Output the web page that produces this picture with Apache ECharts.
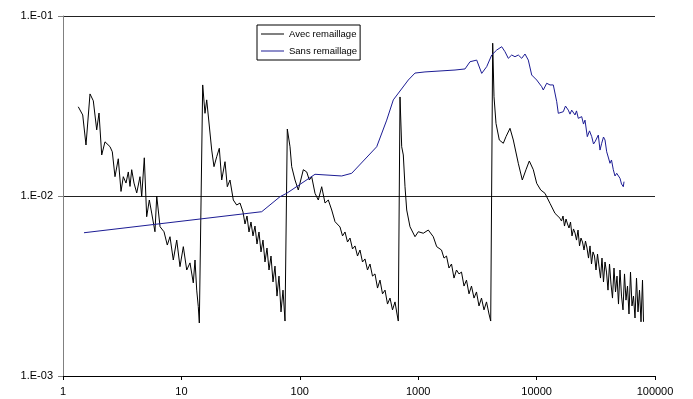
<!DOCTYPE html>
<html>
<head>
<meta charset="utf-8">
<script src="https://cdn.jsdelivr.net/npm/echarts@6/dist/echarts.min.js"></script>
<style>
  html, body {margin: 0; padding: 0; background: #fff;}
  #chart {width: 693px; height: 399px;}
</style>
</head>
<body>
<div id="chart"></div>
<script>
// Avec remaillage (black)
const avecX = [
  1.346, 1.467, 1.564, 1.691, 1.803, 1.926, 2.014, 2.123, 2.263, 2.494,
  2.609, 2.749, 2.931, 3.09, 3.231, 3.405, 3.561, 3.681, 3.804, 3.978,
  4.194, 4.47, 4.62, 4.86, 5.09, 5.36, 5.61, 5.98, 6.19, 6.6,
  7.13, 7.6, 8.01, 8.54, 9.13, 9.73, 10.38, 11.09, 11.82, 12.6,
  13.03, 13.47, 13.89, 14.17,
  15.13, 15.82, 16.36, 16.87, 18.03, 18.85, 19.87, 20.9, 21.9, 23.35,
  24.42, 25.73, 27.44, 29.31, 31.26,
  33.13, 34.45, 35.82, 37.23, 38.71, 40.24, 41.84, 43.50, 45.22, 47.01,
  48.88, 50.82, 52.84, 54.94, 57.12, 59.37, 61.73, 64.18, 66.73, 69.38,
  72.13, 74.99,
  78.43, 82.65, 85.43, 91.1, 97.1, 100.4, 107.1, 114.4, 120.3, 126.0,
  134.4, 143.3, 153.1, 163.3, 174.1, 186.0, 198.4,
  218.6, 229.5, 240.9, 252.9, 265.5, 278.7, 292.6, 307.2, 322.4, 338.5,
  355.3, 373.0, 391.6, 411.1, 431.6, 453.3, 475.8, 499.5, 524.5, 550.5,
  577.9, 606.7, 637.0, 662.2, 679.0,
  702.0, 725.5, 748.6, 773.6, 799.7, 852.5, 939.7, 1002, 1104, 1217,
  1341, 1433,
  1573, 1652, 1734, 1820, 1911, 2006, 2106, 2211, 2321, 2437,
  2558, 2686, 2819, 2960, 3107, 3262, 3425, 3595, 3775, 3963,
  4097,
  4258, 4368, 4541, 4842, 5233, 5515, 5962, 6357, 7005, 7573,
  8137, 8676, 9378, 10020, 10830, 11770, 12980, 14300, 15760,
  16230, 16710, 17200, 17720, 18240, 18780, 19340, 19910, 20500, 21110,
  21730, 22380, 23040, 23710, 24420, 25140, 25880, 26650, 27440, 28250,
  29090, 29950, 30830, 31750, 32690, 33650, 34650, 35670, 36730, 37820,
  38940, 40090, 41280, 42500, 43750, 45050, 46390, 47760, 49170, 50630,
  52130, 53670, 55260, 56890, 58580, 60310, 62100, 63930, 65820, 67780,
  69790, 71850, 73980, 76170, 78420, 79980
];
const avecY = [
  0.0313, 0.0282, 0.0192, 0.0369, 0.0338, 0.0233, 0.0289, 0.0169, 0.0200, 0.0188,
  0.0176, 0.0128, 0.0161, 0.0106, 0.0128, 0.0118, 0.0136, 0.0113, 0.0140, 0.0118,
  0.0104, 0.0128, 0.00991, 0.0163, 0.00767, 0.0095, 0.00804, 0.00633, 0.0100, 0.00675,
  0.00633, 0.00534, 0.00594, 0.00441, 0.00569, 0.00405, 0.00523, 0.00388, 0.00425, 0.00329,
  0.00441, 0.0030, 0.00243, 0.00197,
  0.0414, 0.0288, 0.0342, 0.0342, 0.0180, 0.01455, 0.01653, 0.01841, 0.01227, 0.01551,
  0.01126, 0.01227, 0.0095, 0.00891, 0.00914,
  0.00815, 0.00699, 0.00774, 0.00631, 0.00717, 0.006, 0.00681, 0.00541, 0.00631, 0.00489,
  0.00569, 0.0043, 0.00514, 0.00388, 0.00464, 0.00333, 0.00408, 0.00278, 0.00359, 0.00227,
  0.003, 0.00202,
  0.02355, 0.01878, 0.01455, 0.01227, 0.0108, 0.0118, 0.0140, 0.0136, 0.01227, 0.0128,
  0.01035, 0.0095, 0.01126, 0.00914, 0.0095, 0.00836, 0.0072,
  0.00673, 0.006, 0.00631, 0.00555, 0.00584, 0.00508, 0.00528, 0.00464, 0.00501, 0.0043,
  0.00447, 0.00388, 0.00419, 0.00359, 0.00369, 0.00308, 0.00341, 0.00286, 0.003, 0.00251,
  0.00271, 0.00233, 0.00258, 0.00221, 0.00202,
  0.0355, 0.01878, 0.0169, 0.01126, 0.00836, 0.00675, 0.00594, 0.00633, 0.00621, 0.00647,
  0.00594, 0.00523,
  0.00501, 0.00452, 0.00464, 0.00398, 0.00419, 0.0035, 0.00388, 0.00369, 0.00378, 0.00316,
  0.00341, 0.00286, 0.00316, 0.00271, 0.00293, 0.00245, 0.00271, 0.00233, 0.00258, 0.00221,
  0.00202,
  0.0706, 0.0356, 0.0253, 0.02047, 0.01963, 0.02136, 0.02377, 0.02047, 0.0152, 0.01227,
  0.0140, 0.01565, 0.0140, 0.01176, 0.0108, 0.01035, 0.0091, 0.00801, 0.00752,
  0.00726, 0.00774, 0.00681, 0.00745, 0.00699, 0.00664, 0.00717, 0.006, 0.00656, 0.00623,
  0.00569, 0.00647, 0.00528, 0.00584, 0.00555, 0.00501, 0.00562, 0.00514, 0.00452, 0.00528,
  0.00419, 0.00489, 0.00464, 0.00388, 0.00476, 0.00408, 0.0035, 0.00452, 0.00333, 0.0043,
  0.00378, 0.003, 0.00419, 0.00324, 0.00271, 0.00398, 0.00293, 0.00359, 0.00251, 0.00388,
  0.00278, 0.00233, 0.00369, 0.00264, 0.00316, 0.00221, 0.00378, 0.00245, 0.00278, 0.0021,
  0.0035, 0.00227, 0.003, 0.002, 0.00341, 0.002
];

// Sans remaillage (blue)
const sansX = [
  1.504, 47.68, 68.05, 77.5, 134.4, 225.9, 274.4, 446.2, 542.1, 616.3,
  825, 939.7, 1141, 1528, 2046, 2486, 2738, 3120, 3439, 3789,
  4177, 4603, 5073, 5409, 5768, 6162, 6570, 7005, 7485, 7980,
  8509, 9093, 10020, 11040, 11390, 12170, 12980, 13840, 14790, 15250,
  16810, 17540, 18520, 19150, 19790, 21110, 21730, 22500, 24040, 24890,
  25630, 26810, 27980, 29210, 30240, 31140, 33200, 34320, 35460, 36730,
  37820, 39090, 40490, 41680, 42910, 44450, 45950, 47490, 48700, 50630,
  52130, 54000, 54730
];
const sansY = [
  0.00625, 0.00818, 0.00991, 0.01035, 0.0132, 0.01292, 0.01337, 0.01878, 0.0264, 0.0342,
  0.0441, 0.0482, 0.0489, 0.0495, 0.0501, 0.0508, 0.0557, 0.0569, 0.0480, 0.0523,
  0.0607, 0.0647, 0.0675, 0.0633, 0.0582, 0.0607, 0.0594, 0.0607, 0.0582, 0.0615,
  0.0569, 0.0470, 0.0441, 0.0405, 0.0388, 0.0423, 0.0414, 0.0414, 0.0334, 0.0288,
  0.0294, 0.0316, 0.0300, 0.0285, 0.0300, 0.0282, 0.0297, 0.0270, 0.0276, 0.0251,
  0.0264, 0.02136, 0.0230, 0.02136, 0.01945, 0.0200, 0.0218, 0.0180, 0.01963, 0.02127,
  0.02047, 0.0176, 0.01626, 0.0152, 0.01585, 0.0140, 0.01292, 0.01337, 0.0136, 0.01254,
  0.01166, 0.01126, 0.01201
];

const seriesNames = ['Avec remaillage', 'Sans remaillage'];
const zip = (xs, ys) => xs.map((x, i) => [x, ys[i]]);

const font = 'Liberation Sans, Arial, sans-serif';
const myChart = echarts.init(document.getElementById('chart'));
myChart.setOption({
  animation: false,
  backgroundColor: '#fff',
  grid: {left: 63, right: 38, top: 16, bottom: 23},
  legend: {
    orient: 'vertical',
    left: 257,
    top: 25,
    padding: [4, 3, 4, 4],
    itemGap: 7,
    itemWidth: 23,
    itemHeight: 1,
    borderColor: '#000',
    borderWidth: 1,
    backgroundColor: '#fff',
    textStyle: {fontFamily: font, fontSize: 9.5, color: '#000'},
    data: seriesNames.map(name => ({name, icon: 'rect'}))
  },
  xAxis: {
    type: 'log',
    logBase: 10,
    min: 1,
    max: 100000,
    axisLine: {lineStyle: {color: '#000', width: 1}},
    axisTick: {show: true, length: 4, lineStyle: {color: '#000'}},
    axisLabel: {
      color: '#000',
      fontFamily: font,
      fontSize: 11,
      margin: 10,
      formatter: v => String(Math.round(v))
    },
    splitLine: {show: false}
  },
  yAxis: {
    type: 'log',
    logBase: 10,
    min: 0.001,
    max: 0.1,
    axisLine: {show: true, lineStyle: {color: '#808080', width: 1}},
    axisTick: {show: true, length: 5, lineStyle: {color: '#808080'}},
    axisLabel: {
      color: '#000',
      fontFamily: font,
      fontSize: 11,
      margin: 10,
      formatter: v => '1.E-' + String(Math.round(-Math.log10(v))).padStart(2, '0')
    },
    splitLine: {show: true, lineStyle: {color: '#222', width: 1}}
  },
  series: [
    {name: seriesNames[0], data: zip(avecX, avecY), color: '#000'},
    {name: seriesNames[1], data: zip(sansX, sansY), color: '#1c1c94'}
  ].map(obj => ({
    ...obj,
    type: 'line',
    showSymbol: false,
    symbol: 'none',
    lineStyle: {width: 1, color: obj.color},
    itemStyle: {color: obj.color}
  }))
});
</script>
</body>
</html>
